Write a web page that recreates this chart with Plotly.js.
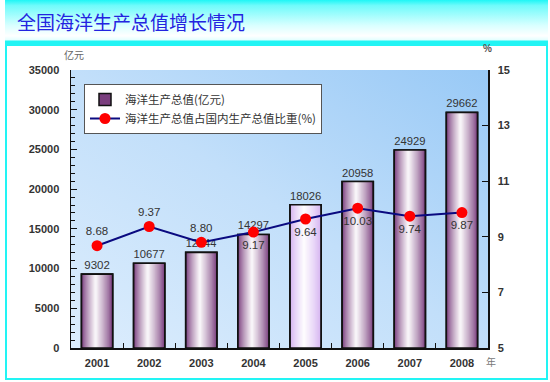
<!DOCTYPE html>
<html>
<head>
<meta charset="utf-8">
<script src="https://cdn.plot.ly/plotly-3.0.1.min.js"></script>
<style>
  html, body { margin: 0; padding: 0; background: #ffffff; }
  #wrap { position: relative; width: 550px; height: 382px; overflow: hidden; }
  #frame { position: absolute; left: 5px; top: 0; width: 539px; height: 378px;
           border-left: 2px solid #22f4f4; border-right: 2px solid #22f4f4; border-bottom: 2px solid #22f4f4; }
  #titlebar { position: absolute; left: 5px; top: 0; width: 543px; height: 46px;
              background: linear-gradient(to bottom, #1ef6f6 0%, #6ffbfb 12%, #d8ffff 55%, #ffffff 78%, #e6ffff 86%, #22f4f4 90%, #22f4f4 100%); }
  #chart { position: absolute; left: 0; top: 0; width: 550px; height: 382px; }
</style>
</head>
<body>
<div id="wrap">
  <div id="frame"></div>
  <div id="titlebar"></div>
  <div id="chart"></div>
</div>
<script>
// ---- data ----
const years = ['2001', '2002', '2003', '2004', '2005', '2006', '2007', '2008'];
const marineGDP = [9302, 10677, 12044, 14297, 18026, 20958, 24929, 29662];
const shareOfGDP = [8.68, 9.37, 8.80, 9.17, 9.64, 10.03, 9.74, 9.87];
const shareLabels = ['8.68', '9.37', '8.80', '9.17', '9.64', '10.03', '9.74', '9.87'];
const barName = '海洋生产总值(亿元)';
const lineName = '海洋生产总值占国内生产总值比重(%)';
const chartTitle = '全国海洋生产总值增长情况';

// ---- styles ----
const shareLabelPos = ['top center', 'top center', 'top center', 'bottom center',
                       'bottom center', 'bottom center', 'bottom center', 'bottom center'];
const barEdgeRGB = years.map(y => y === '2005' ? [212, 178, 240] : [122, 62, 126]);
const BAR_W = 0.6;
const LAYERS = 14;

function mix(c, t) { // t=0 -> c, t=1 -> white
  const r = Math.round(c[0] + (255 - c[0]) * t);
  const g = Math.round(c[1] + (255 - c[1]) * t);
  const b = Math.round(c[2] + (255 - c[2]) * t);
  return 'rgb(' + r + ',' + g + ',' + b + ')';
}

const traces = [];
for (let k = 0; k < LAYERS; k++) {
  const frac = 1 - k / LAYERS;           // relative width
  const t = Math.pow(1 - frac, 0.8);
  const w = BAR_W * frac;
  traces.push({
    type: 'bar',
    x: years,
    y: marineGDP,
    width: w,
    offset: -w / 2 - 0.03 * (1 - frac),
    name: barName,
    legendgroup: 'bar',
    showlegend: k === 0,
    hoverinfo: 'skip',
    marker: {
      color: barEdgeRGB.map(c => mix(c, Math.min(1, t))),
      line: { width: k === 0 ? 1.5 : 0, color: '#111' }
    }
  });
}
// outline + value labels on top
traces.push({
  type: 'bar',
  x: years,
  y: marineGDP,
  width: BAR_W,
  name: barName,
  legendgroup: 'bar',
  showlegend: false,
  marker: { color: 'rgba(0,0,0,0)', line: { width: 1.6, color: '#111' } },
  text: marineGDP.map(String),
  textposition: 'outside',
  cliponaxis: false,
  textfont: { family: 'Liberation Sans, Arial', size: 11.5, color: '#333' }
});
// share line
traces.push({
  type: 'scatter',
  mode: 'lines+markers+text',
  x: years,
  y: shareOfGDP,
  yaxis: 'y2',
  name: lineName,
  line: { color: '#0a0a80', width: 2 },
  marker: { color: '#ff0000', size: 11 },
  text: shareLabels,
  textposition: shareLabelPos,
  cliponaxis: false,
  textfont: { family: 'Liberation Sans, Arial', size: 11.5, color: '#333' }
});

const bgSvg = "<svg xmlns='http://www.w3.org/2000/svg' width='100' height='100' preserveAspectRatio='none'>" +
  "<defs><linearGradient id='g' x1='0' y1='1' x2='1' y2='0'>" +
  "<stop offset='0' stop-color='#dcedfd'/><stop offset='0.5' stop-color='#c2dffa'/><stop offset='1' stop-color='#98c9f6'/>" +
  "</linearGradient></defs><rect width='100' height='100' fill='url(#g)'/></svg>";

const tickFont = { family: 'Liberation Sans, Arial', size: 11, color: '#333', weight: 'bold' };
const cjkFont = 'Noto Sans CJK SC';

const layout = {
  width: 550, height: 382,
  margin: { l: 71, r: 62, t: 70, b: 34, pad: 0 },
  paper_bgcolor: 'rgba(0,0,0,0)',
  plot_bgcolor: 'rgba(0,0,0,0)',
  barmode: 'overlay',
  showlegend: true,
  title: {
    text: chartTitle,
    font: { family: cjkFont, size: 19, color: '#2323e0' },
    xref: 'container', yref: 'container',
    x: 17 / 550, xanchor: 'left',
    y: 1 - 23 / 382, yanchor: 'middle'
  },
  legend: {
    x: 13 / 417, y: (348 - 84) / 278, xanchor: 'left', yanchor: 'top',
    bgcolor: '#ffffff', bordercolor: '#555', borderwidth: 1,
    font: { family: cjkFont, size: 11.5, color: '#333' },
    traceorder: 'normal', itemwidth: 30, tracegroupgap: 0
  },
  xaxis: {
    type: 'category',
    range: [-0.5, 7.5],
    showline: true, linecolor: '#111', linewidth: 1.5,
    ticks: 'inside', tickson: 'boundaries', ticklen: 5, tickcolor: '#111',
    showgrid: false, zeroline: false,
    tickfont: tickFont,
    ticklabelstandoff: 4
  },
  yaxis: {
    range: [0, 35000], tick0: 0, dtick: 5000,
    tickformat: 'd', exponentformat: 'none', separatethousands: false,
    showline: true, linecolor: '#111', linewidth: 1.5,
    ticks: 'inside', ticklen: 6, tickcolor: '#111',
    minor: { dtick: 1000, ticks: 'inside', ticklen: 4, tickcolor: '#111' },
    showgrid: false, zeroline: false,
    tickfont: tickFont,
    ticklabelstandoff: 8
  },
  yaxis2: {
    overlaying: 'y', side: 'right',
    range: [5, 15], tick0: 5, dtick: 2,
    showline: true, linecolor: '#111', linewidth: 1.5,
    ticks: 'inside', ticklen: 6, tickcolor: '#111',
    showgrid: false, zeroline: false,
    tickfont: tickFont,
    ticklabelstandoff: 6
  },
  images: [{
    source: 'data:image/svg+xml;charset=utf-8,' + encodeURIComponent(bgSvg),
    xref: 'paper', yref: 'paper', x: 0, y: 1, sizex: 1, sizey: 1,
    xanchor: 'left', yanchor: 'top', sizing: 'stretch', layer: 'below'
  }],
  annotations: [
    { text: '亿元', xref: 'paper', yref: 'paper', x: 3 / 417, y: (348 - 55) / 278,
      showarrow: false, xanchor: 'center', yanchor: 'middle',
      font: { family: cjkFont, size: 10, color: '#666' } },
    { text: '%', xref: 'paper', yref: 'paper', x: (487 - 71) / 417, y: (348 - 48) / 278,
      showarrow: false, xanchor: 'center', yanchor: 'middle',
      font: { family: 'Liberation Sans, Arial', size: 10, color: '#555', weight: 'bold' } },
    { text: '年', xref: 'paper', yref: 'paper', x: (491 - 71) / 417, y: (348 - 361) / 278,
      showarrow: false, xanchor: 'center', yanchor: 'middle',
      font: { family: cjkFont, size: 10, color: '#777' } }
  ]
};

Plotly.newPlot('chart', traces, layout, { displayModeBar: false, staticPlot: true });
</script>
</body>
</html>
